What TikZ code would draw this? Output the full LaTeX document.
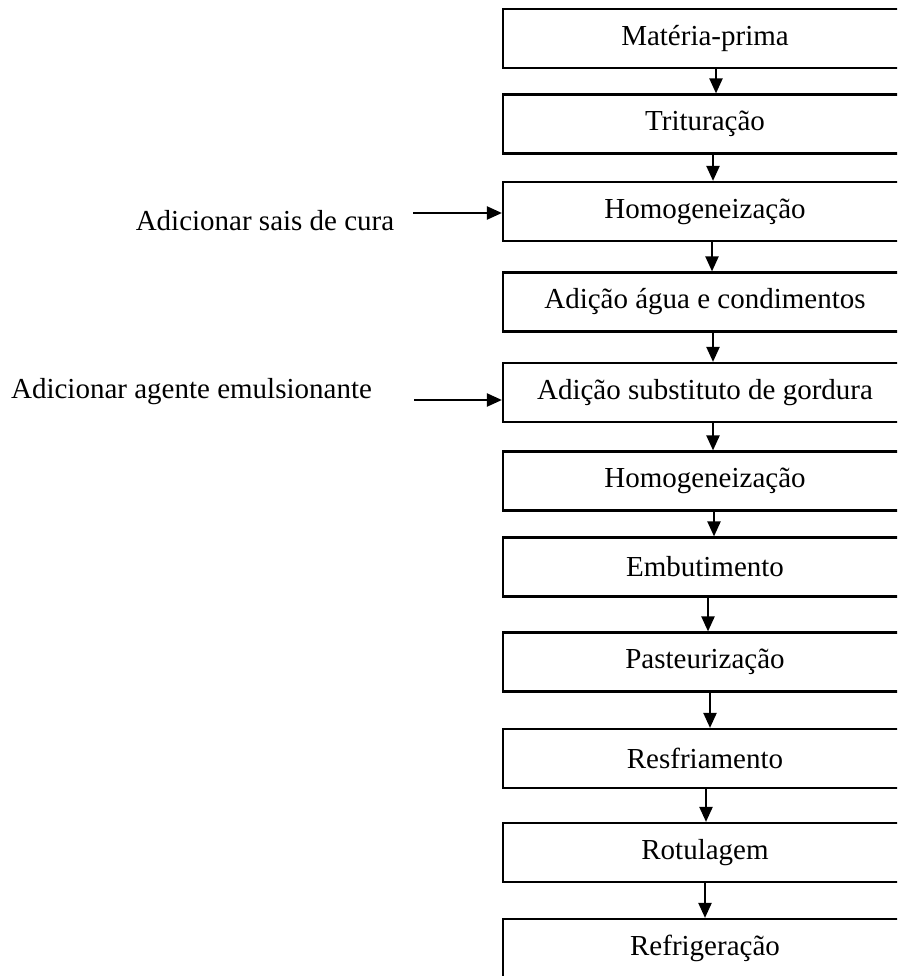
\documentclass[tikz,border=0pt]{standalone}
\usepackage{fontspec}
\setmainfont{Liberation Serif}
\usetikzlibrary{arrows.meta}
\begin{document}
\begin{tikzpicture}[x=1pt,y=-1pt,
  stepbox/.style={draw, line width=2.2pt, minimum width=404pt, minimum height=59pt, inner sep=0pt, font=\fontsize{29}{34}\selectfont},
  lbl/.style={inner sep=0pt, font=\fontsize{29}{34}\selectfont},
  arr/.style={line width=2.2pt, -{Triangle[width=13pt,length=15pt]}}]
\useasboundingbox (0,0) rectangle (897,976);
\clip (0,0) rectangle (897,976);
\node[stepbox] (b1) at (705,38.5) {Matéria-prima};
\node[stepbox] (b2) at (705,124) {Trituração};
\node[stepbox] (b3) at (705,211.5) {Homogeneização};
\node[stepbox] (b4) at (705,302) {Adição água e condimentos};
\node[stepbox] (b5) at (705,392.5) {Adição substituto de gordura};
\node[stepbox] (b6) at (705,481) {Homogeneização};
\node[stepbox] (b7) at (705,567) {Embutimento};
\node[stepbox] (b8) at (705,662) {Pasteurização};
\node[stepbox] (b9) at (705,758.5) {Resfriamento};
\node[stepbox] (b10) at (705,852.5) {Rotulagem};
\node[stepbox] (b11) at (705,948.5) {Refrigeração};
\draw[arr] ([xshift=11pt]b1.south) -- ([xshift=11pt]b2.north);
\draw[arr] ([xshift=8pt]b2.south) -- ([xshift=8pt]b3.north);
\draw[arr] ([xshift=7pt]b3.south) -- ([xshift=7pt]b4.north);
\draw[arr] ([xshift=8pt]b4.south) -- ([xshift=8pt]b5.north);
\draw[arr] ([xshift=8pt]b5.south) -- ([xshift=8pt]b6.north);
\draw[arr] ([xshift=9pt]b6.south) -- ([xshift=9pt]b7.north);
\draw[arr] ([xshift=3pt]b7.south) -- ([xshift=3pt]b8.north);
\draw[arr] ([xshift=5pt]b8.south) -- ([xshift=5pt]b9.north);
\draw[arr] ([xshift=1pt]b9.south) -- ([xshift=1pt]b10.north);
\draw[arr] (b10.south) -- (b11.north);
\node[lbl] (l1) at (265,221) {Adicionar sais de cura};
\node[lbl] (l2) at (191.5,392) {Adicionar agente emulsionante};
\coordinate (s1) at (413,213);
\coordinate (s2) at (414,400);
\draw[arr] (s1) -- (s1 -| b3.west);
\draw[arr] (s2) -- (s2 -| b5.west);
\end{tikzpicture}
\end{document}
